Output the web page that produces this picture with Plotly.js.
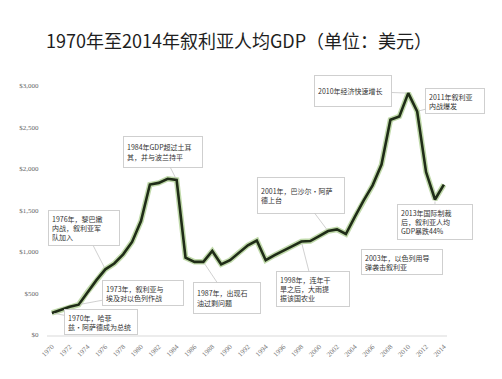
<!DOCTYPE html>
<html>
<head>
<meta charset="utf-8">
<script src="https://cdn.plot.ly/plotly-3.0.1.min.js"></script>
<style>
html,body{margin:0;padding:0;background:#fff;}
#chart{width:502px;height:379px;}
</style>
</head>
<body>
<div id="chart"></div>
<script>
// ---- data ----
var years = [1970,1971,1972,1973,1974,1975,1976,1977,1978,1979,
             1980,1981,1982,1983,1984,1985,1986,1987,1988,1989,
             1990,1991,1992,1993,1994,1995,1996,1997,1998,1999,
             2000,2001,2002,2003,2004,2005,2006,2007,2008,2009,
             2010,2011,2012,2013,2014];
var gdp = [265,300,340,365,520,660,790,860,970,1120,
           1370,1810,1830,1880,1865,930,880,880,1010,850,
           900,990,1080,1136,900,960,1020,1070,1124,1130,
           1190,1250,1270,1215,1420,1620,1800,2050,2590,2630,
           2910,2690,1960,1630,1810];
var xTickVals = [1970,1972,1974,1976,1978,1980,1982,1984,1986,1988,1990,1992,
                 1994,1996,1998,2000,2002,2004,2006,2008,2010,2012,2014];
var yTickVals = [0,500,1000,1500,2000,2500,3000];
var yTickText = ['$0','$500','$1,000','$1,500','$2,000','$2,500','$3,000'];

var eventYears = [1984,2010,2011,2001,2013,2003,1998,1987,1976,1973,1970];
var eventTexts = [
  '1984年GDP超过土耳<br>其，并与波兰持平',
  '2010年经济快速增长',
  '2011年叙利亚<br>内战爆发',
  '2001年，巴沙尔·阿萨<br>德上台',
  '2013年国际制裁<br>后，叙利亚人均<br>GDP暴跌44%',
  '2003年，以色列用导<br>弹袭击叙利亚',
  '1998年，连年干<br>旱之后，大雨提<br>振该国农业',
  '1987年，出现石<br>油过剩问题',
  '1976年，黎巴嫩<br>内战，叙利亚军<br>队加入',
  '1973年，叙利亚与<br>埃及对以色列作战',
  '1970年，哈菲<br>兹·阿萨德成为总统'
];
// ---- layout of callouts (pixel offsets & box sizes) ----
var boxAx = [-14,-55,38,-27,0,56,12,24,-21,64,49];
var boxAy = [-28,-2,-10,-36,22,28,47,36,-41,-12,9];
var boxW  = [80,78,60,88,76,82,74,68,72,82,74];
var boxH  = [32,32,26,37,33,23,36,32,35,26,23];

var annotations = eventYears.map(function(yr,i){
  var v = gdp[years.indexOf(yr)];
  var nLines = eventTexts[i].split('<br>').length;
  var inner = boxH[i]-8;
  var minH = nLines*9.2;
  return {
    x: yr, y: v, xref:'x', yref:'y',
    text: eventTexts[i],
    showarrow: true, arrowhead: 0, arrowwidth: 0.8, arrowcolor:'#c4c4c4',
    ax: boxAx[i], ay: boxAy[i],
    standoff: 2,
    width: boxW[i]-8, height: Math.max(inner, minH),
    align: 'left', valign: 'middle',
    bgcolor: '#ffffff', bordercolor: '#cfcfcf', borderwidth: 1, borderpad: 3,
    font: {family:'"Noto Sans CJK SC", sans-serif', size: 7, color:'#333'}
  };
});

annotations.push({
  text: '1970年至2014年叙利亚人均GDP（单位：美元）',
  xref:'paper', yref:'paper', x: -3/400, y: 1 + 29/266,
  xanchor:'left', yanchor:'middle', showarrow:false,
  font:{family:'"Noto Sans CJK SC", sans-serif', size:18, color:'#1e1e1e'}
});

var traces = [
  {x: years, y: gdp, type:'scatter', mode:'lines',
   line:{color:'rgba(140,185,100,0.55)', width:5.5}, hoverinfo:'skip'},
  {x: years, y: gdp, type:'scatter', mode:'lines',
   line:{color:'#1f2c17', width:2.6}}
];

var layout = {
  width: 502, height: 379,
  margin: {l:47, r:55, t:69, b:44},
  paper_bgcolor:'#fff', plot_bgcolor:'#fff',
  showlegend:false,
  font:{family:'"Liberation Serif", serif'},
  xaxis:{
    range:[1969.45, 2014.35], tickmode:'array', tickvals:xTickVals,
    ticktext: xTickVals.map(String),
    tickangle:-45, ticks:'outside', ticklen:3, tickcolor:'rgba(0,0,0,0)',
    tickfont:{size:7, color:'#777'},
    showgrid:false, zeroline:false,
    showline:true, linecolor:'#ececec', linewidth:2
  },
  yaxis:{
    range:[0, 3200], tickmode:'array', tickvals:yTickVals, ticktext:yTickText,
    ticks:'outside', ticklen:6, tickcolor:'rgba(0,0,0,0)',
    tickfont:{size:7, color:'#666'},
    showgrid:false, zeroline:false, showline:false
  },
  annotations: annotations
};

Plotly.newPlot('chart', traces, layout, {displayModeBar:false, staticPlot:true});
</script>
</body>
</html>
